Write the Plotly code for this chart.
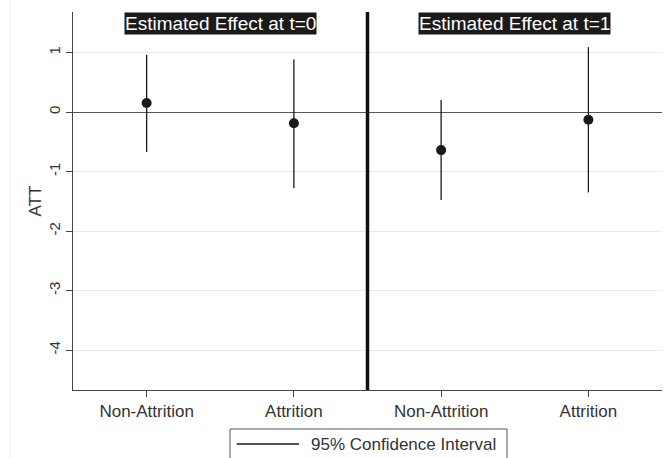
import plotly.graph_objects as go

categories = ["Non-Attrition", "Attrition", "Non-Attrition", "Attrition"]
positions = [1, 2, 3, 4]
estimates = [0.15, -0.19, -0.64, -0.13]
ci_upper = [0.96, 0.88, 0.20, 1.09]
ci_lower = [-0.67, -1.28, -1.48, -1.35]
panel_titles = ["Estimated Effect at t=0", "Estimated Effect at t=1"]
panel_centers = [1.5, 3.5]
divider_x = 2.5
y_ticks = [1, 0, -1, -2, -3, -4]
legend_label = "95% Confidence Interval"

FONT = "Liberation Sans Narrow, Arial Narrow, Liberation Sans, Arial, sans-serif"

plus = [u - e for u, e in zip(ci_upper, estimates)]
minus = [e - l for e, l in zip(estimates, ci_lower)]

fig = go.Figure()
fig.add_trace(go.Scatter(
    x=positions, y=estimates, mode="markers",
    marker=dict(color="#1a1a1a", size=10),
    error_y=dict(type="data", array=plus, arrayminus=minus, width=0,
                 thickness=1.3, color="#1a1a1a"),
    showlegend=False, hoverinfo="skip",
))

# divider
fig.add_shape(type="line", xref="x", yref="paper", x0=divider_x, x1=divider_x,
              y0=0, y1=1, line=dict(color="#111111", width=3.5))
# outer faint border
fig.add_shape(type="line", xref="paper", yref="paper", x0=-0.107, x1=-0.107,
              y0=-0.2, y1=1.05, line=dict(color="#eeeeee", width=1))

# legend box drawn manually (Stata style)
fig.add_shape(type="rect", xref="paper", yref="paper", x0=0.2666, x1=0.7368,
              y0=-0.2116, y1=-0.1032, line=dict(color="#555555", width=1),
              fillcolor="white")
fig.add_shape(type="line", xref="paper", yref="paper", x0=0.2780, x1=0.3837,
              y0=-0.1429, y1=-0.1429, line=dict(color="#1a1a1a", width=1.3))
fig.add_annotation(x=0.4007, y=-0.1429, xref="paper", yref="paper",
                   xanchor="left", yanchor="middle", text=legend_label,
                   showarrow=False, font=dict(size=17, family=FONT, color="#333333"))

for t, cx in zip(panel_titles, panel_centers):
    fig.add_annotation(x=cx, y=1, xref="x", yref="paper", yanchor="top",
                       text=t, showarrow=False, bgcolor="#1a1a1a",
                       font=dict(color="white", size=19, family=FONT),
                       borderpad=0)

fig.update_layout(
    width=666, height=458,
    margin=dict(l=73, r=4, t=12, b=68, autoexpand=False),
    paper_bgcolor="white", plot_bgcolor="white",
    font=dict(family=FONT, color="#333333", size=15),
    showlegend=False,
    xaxis=dict(range=[0.5, 4.5], tickmode="array", tickvals=positions,
               ticktext=categories, showgrid=False, zeroline=False,
               showline=True, linecolor="#444444", linewidth=1,
               ticks="outside", ticklen=6, tickcolor="#444444",
               tickfont=dict(size=17, family=FONT)),
    yaxis=dict(range=[-4.67, 1.68], tickmode="array", tickvals=y_ticks,
               ticktext=[str(v) for v in y_ticks], tickangle=-90,
               showgrid=True, gridcolor="#eaeaea", gridwidth=1,
               zeroline=True, zerolinecolor="#555555", zerolinewidth=1,
               showline=True, linecolor="#444444", linewidth=1,
               ticks="outside", ticklen=6, tickcolor="#444444",
               tickfont=dict(size=15, family=FONT),
               title=dict(text="ATT", font=dict(size=17, family=FONT), standoff=0)),
)

fig.write_html("out.html", config={"displayModeBar": False},
               post_script="document.body.style.margin='0';document.body.style.overflow='hidden';")
